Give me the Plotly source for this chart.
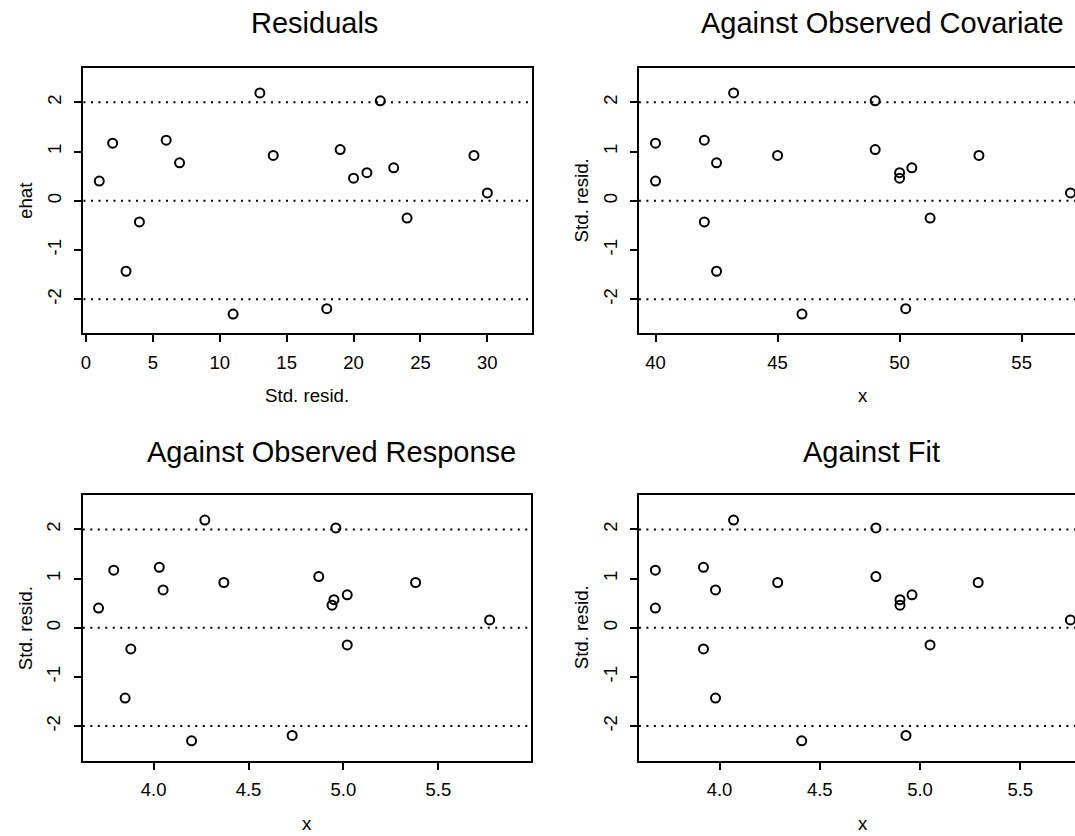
import plotly.graph_objects as go

# ---------------- data ----------------
obs_index = [1, 2, 3, 4, 6, 7, 11, 13, 14, 18, 19, 20, 21, 22, 23, 24, 29, 30]
std_resid = [0.40, 1.17, -1.43, -0.43, 1.23, 0.77, -2.30, 2.19, 0.92, -2.19,
             1.04, 0.46, 0.57, 2.03, 0.67, -0.35, 0.92, 0.16]
covariate = [40, 40, 42.5, 42, 42, 42.5, 46, 43.2, 45, 50.25,
             49, 50, 50, 49, 50.5, 51.25, 53.25, 57]
response = [3.71, 3.79, 3.85, 3.88, 4.03, 4.05, 4.20, 4.27, 4.37, 4.73,
            4.87, 4.94, 4.95, 4.96, 5.02, 5.02, 5.38, 5.77]
fitted = [3.68, 3.68, 3.98, 3.92, 3.92, 3.98, 4.41, 4.07, 4.29, 4.93,
          4.78, 4.90, 4.90, 4.78, 4.96, 5.05, 5.29, 5.75]

ref_lines = [-2, 0, 2]

titles = ["Residuals", "Against Observed Covariate", "Against Observed Response", "Against Fit"]
x_labels = ["Std. resid.", "x", "x", "x"]
y_labels = ["ehat", "Std. resid.", "Std. resid.", "Std. resid."]

x_ticks_index = [0, 5, 10, 15, 20, 25, 30]
x_ticks_cov = [40, 45, 50, 55]
x_ticks_resp = [4.0, 4.5, 5.0, 5.5]
x_ticktext_resp = ["4.0", "4.5", "5.0", "5.5"]
y_ticks = [-2, -1, 0, 1, 2]
y_ticktext = ["-2", "-1", "0", "1", "2"]

# ---------------- layout geometry ----------------
W, H = 1075, 836
FONT = "Liberation Sans, Arial, Helvetica, sans-serif"
TICK_FS = 18.5
LAB_FS = 18.7
TITLE_FS = 29

def fx(px):
    return px / W

def fy(py):
    return 1 - py / H

# panel boxes in pixels: (left, right, top, bottom)
boxes = [
    (80.7, 530.0, 68.3, 333.3),
    (637.7, 1075.0, 68.3, 333.3),
    (80.0, 529.3, 494.5, 761.0),
    (637.7, 1075.0, 494.5, 761.0),
]
x_ranges = [[-0.18, 33.3], [39.32, 57.186], [3.627, 5.987], [3.598, 5.773]]
y_ranges = [[-2.69, 2.69], [-2.69, 2.69], [-2.71, 2.71], [-2.71, 2.71]]
series_x = [obs_index, covariate, response, fitted]
tickvals_x = [x_ticks_index, x_ticks_cov, x_ticks_resp, x_ticks_resp]
ticktext_x = [[str(v) for v in x_ticks_index], [str(v) for v in x_ticks_cov],
              x_ticktext_resp, x_ticktext_resp]
title_pos = [(312.8, 22.8), (882.0, 22.8), (329.7, 451.5), (870.7, 451.5)]
xlab_pos = [(305.3, 395.0), (862.4, 395.0), (304.7, 823.0), (862.4, 823.0)]

fig = go.Figure()
annotations = []
shapes = []

for i in range(4):
    n = "" if i == 0 else str(i + 1)
    xa, ya = "x" + n, "y" + n
    left, right, top, bottom = boxes[i]
    right_cut = i in (1, 3)

    fig.add_trace(go.Scatter(
        x=series_x[i], y=std_resid, xaxis=xa, yaxis=ya, mode="markers",
        marker=dict(symbol="circle-open", size=9, color="black",
                    line=dict(width=2, color="black")),
        showlegend=False, hoverinfo="x+y", cliponaxis=True,
    ))

    axis_common = dict(
        showline=True, linecolor="black", linewidth=2,
        ticks="outside", ticklen=7, tickwidth=2, tickcolor="black",
        showgrid=False, zeroline=False,
        tickfont=dict(family=FONT, size=TICK_FS, color="black"),
    )
    fig.layout["xaxis" + n] = dict(
        axis_common, domain=[fx(left), fx(right)], range=x_ranges[i],
        anchor=ya, tickmode="array", tickvals=tickvals_x[i],
        ticktext=ticktext_x[i], mirror=True, ticklabelstandoff=4,
    )
    fig.layout["yaxis" + n] = dict(
        axis_common, domain=[fy(bottom), fy(top)], range=y_ranges[i],
        anchor=xa, tickmode="array", tickvals=y_ticks, ticktext=y_ticktext,
        tickangle=-90, mirror=not right_cut, ticklabelstandoff=6,
    )

    for v in ref_lines:
        shapes.append(dict(
            type="line", xref=xa + " domain", yref=ya, x0=0, x1=1, y0=v, y1=v,
            line=dict(color="black", width=2, dash="2px,5.5px"), layer="above",
        ))

    tx, ty = title_pos[i]
    annotations.append(dict(
        text=titles[i], x=fx(tx), y=fy(ty), xref="paper", yref="paper",
        xanchor="center", yanchor="middle", showarrow=False,
        font=dict(family=FONT, size=TITLE_FS, color="black"),
    ))
    lx, ly = xlab_pos[i]
    annotations.append(dict(
        text=x_labels[i], x=fx(lx), y=fy(ly), xref="paper", yref="paper",
        xanchor="center", yanchor="middle", showarrow=False,
        font=dict(family=FONT, size=LAB_FS, color="black"),
    ))
    annotations.append(dict(
        text=y_labels[i], x=fx(left - 57.5), y=fy((top + bottom) / 2),
        xref="paper", yref="paper", xanchor="center", yanchor="middle",
        textangle=-90, showarrow=False,
        font=dict(family=FONT, size=LAB_FS, color="black"),
    ))

fig.update_layout(
    width=W, height=H, autosize=False,
    margin=dict(l=0, r=0, t=0, b=0, pad=0),
    paper_bgcolor="white", plot_bgcolor="white",
    font=dict(family=FONT, color="black"),
    annotations=annotations, shapes=shapes, showlegend=False,
)

# remove the browser's default 8px body margin so the figure sits at (0, 0)
fig.write_html(
    "out.html",
    config={"displayModeBar": False},
    post_script="document.body.style.margin='0px';document.body.style.overflow='hidden';",
)
